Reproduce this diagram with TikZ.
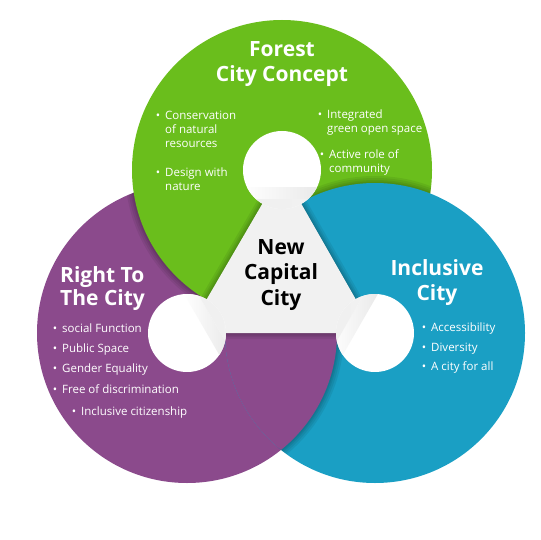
\documentclass[tikz,border=0pt]{standalone}
\usepackage{fontspec}
\setmainfont{Open Sans}
\definecolor{cgreen}{RGB}{106,190,28}
\definecolor{cpurple}{RGB}{139,74,140}
\definecolor{cblue}{RGB}{26,159,196}
\definecolor{ctri}{RGB}{241,241,241}
\newcommand\itembul{\llap{\textbullet\hspace{5pt}}}
\tikzset{
  titletext/.style={font=\bfseries\fontsize{21}{25}\selectfont, text=white, inner sep=0, anchor=base},
  centertext/.style={font=\bfseries\fontsize{21}{25}\selectfont, text=black, inner sep=0, anchor=base},
  itemtext/.style={font=\fontsize{11.5}{14}\selectfont, text=white, inner sep=0, anchor=base west, align=left},
  shadowline/.style={black, opacity=0.065, line width=#1}
}
\begin{document}
\begin{tikzpicture}[x=1pt,y=-1pt]
\useasboundingbox[fill=white] (0,0) rectangle (540,540);
\coordinate (cg) at (282,170);
\coordinate (cp) at (187,333);
\coordinate (cb) at (375,333);
\def\R{150}
\def\H{39}
% purple base
\fill[cpurple] (cp) circle[radius=\R];
\begin{scope}
  \clip (cp) circle[radius=\R];
  \foreach \w in {14,10,6,3}{\draw[shadowline=\w pt] (cg) circle[radius=\R];}
\end{scope}
% green
\fill[cgreen] (cg) circle[radius=\R];
\begin{scope}
  \clip (cg) circle[radius=\R];
  \foreach \w in {14,10,6,3}{\draw[shadowline=\w pt] (cb) circle[radius=\R];}
\end{scope}
% blue
\fill[cblue] (cb) circle[radius=\R];
\begin{scope}
  \clip (cb) circle[radius=\R];
  \foreach \w in {14,10,6,3}{\draw[shadowline=\w pt] (cp) circle[radius=\R];}
\end{scope}
\begin{scope}
  \clip (cb) circle[radius=\R];
  \fill[cpurple] (cp) circle[radius=\R];
\end{scope}
% triangle shadow and triangle
\begin{scope}[yshift=-3pt]
  \foreach \w in {12,8,5,2}{\draw[shadowline=\w pt, line join=round] (cg) -- (cp) -- (cb) -- cycle;}
\end{scope}
\fill[ctri] (cg) -- (cp) -- (cb) -- cycle;
% holes with fold
\foreach \c/\a in {cg/-90, cp/30, cb/150}{
  \begin{scope}[shift={(\c)}, rotate=\a]
    \fill[white] (0,0) circle[radius=\H];
    \clip (0,0) circle[radius=\H];
    \shade[left color=white, right color=black!9] (17,-40) rectangle (29,40);
    \shade[left color=black!6, right color=ctri] (29,-40) rectangle (41,40);
  \end{scope}
}
% titles
\node[titletext] (ft1) at (282,56.5) {Forest};
\node[titletext] (ft2) at (282,81.5) {City Concept};
\node[centertext] (nc1) at (281,254) {New};
\node[centertext] (nc2) at (281,279.5) {Capital};
\node[centertext] (nc3) at (281,305) {City};
\node[titletext, anchor=base west] (rt1) at (60,282.5) {Right To};
\node[titletext, anchor=base west] (rt2) at (60,305.5) {The City};
\node[titletext] (ic1) at (437,275.5) {Inclusive};
\node[titletext] (ic2) at (437,300.5) {City};
% green items (base anchor = last line)
\node[itemtext] (g1) at (165,148) {\itembul Conservation\\of natural\\resources};
\node[itemtext] (g2) at (165,190) {\itembul Design with\\nature};
\node[itemtext] (g3) at (327,133) {\itembul Integrated\\green open space};
\node[itemtext] (g4) at (329,172) {\itembul Active role of\\community};
% purple items
\node[itemtext] (p1) at (62,332) {\itembul social Function};
\node[itemtext] (p2) at (62,352) {\itembul Public Space};
\node[itemtext] (p3) at (62,372) {\itembul Gender Equality};
\node[itemtext] (p4) at (62,393) {\itembul Free of discrimination};
\node[itemtext] (p5) at (81,415) {\itembul Inclusive citizenship};
% blue items
\node[itemtext] (b1) at (431,331) {\itembul Accessibility};
\node[itemtext] (b2) at (431,351) {\itembul Diversity};
\node[itemtext] (b3) at (431,370) {\itembul A city for all};
\end{tikzpicture}
\end{document}
